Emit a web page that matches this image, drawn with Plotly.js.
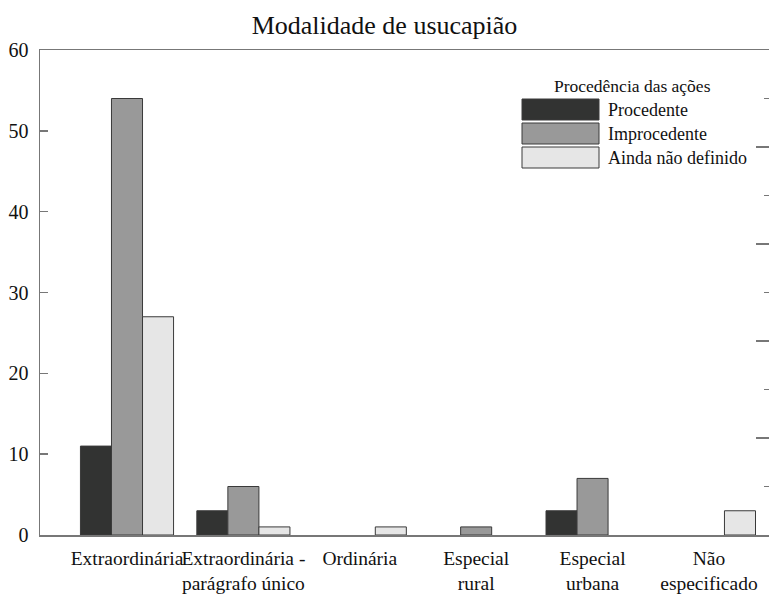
<!DOCTYPE html>
<html>
<head>
<meta charset="utf-8">
<script src="https://cdn.plot.ly/plotly-3.0.1.min.js"></script>
<style>html,body{margin:0;padding:0;background:#fff;overflow:hidden}</style>
</head>
<body>
<div id="chart" style="width:769px;height:608px"></div>
<script>
const categories = ["Extraordinária", "Extraordinária -<br>parágrafo único", "Ordinária", "Especial<br>rural", "Especial<br>urbana", "Não<br>especificado"];
const seriesNames = ["Procedente", "Improcedente", "Ainda não definido"];
const procedente = [11, 3, 0, 0, 3, 0];
const improcedente = [54, 6, 0, 1, 7, 0];
const aindaNaoDefinido = [27, 1, 1, 0, 0, 3];
const legendTitle = "Procedência das ações";
const chartTitle = "Modalidade de usucapião";
const colors = ["#323332", "#999999", "#e6e6e6"];

const FONT = "Liberation Serif";
const values = [procedente, improcedente, aindaNaoDefinido];
const traces = values.map((v, i) => ({
  type: "bar",
  x: categories,
  y: v,
  name: seriesNames[i],
  marker: {color: colors[i], line: {color: "#3a3a3a", width: v.map(d => d > 0 ? 1 : 0)}},
  showlegend: false,
  hoverinfo: "x+y+name"
}));
traces.push({type: "scatter", x: [], y: [], yaxis: "y2", showlegend: false, hoverinfo: "skip"});

// custom legend (paper coords)
const L = 40, W = 729, B = 535, H = 485;
const px = v => (v - L) / W;
const py = v => (B - v) / H;
const shapes = [];
const annotations = [];
const rows = [[99, 120], [123, 144], [147, 168]];
seriesNames.forEach((n, i) => {
  shapes.push({type: "rect", xref: "paper", yref: "paper",
    x0: px(522), x1: px(599), y0: py(rows[i][1]), y1: py(rows[i][0]),
    fillcolor: colors[i], line: {color: "#3a3a3a", width: 1}});
  annotations.push({xref: "paper", yref: "paper", x: px(606), y: py((rows[i][0] + rows[i][1]) / 2),
    xanchor: "left", yanchor: "middle", showarrow: false, text: n,
    font: {family: FONT, size: 18, color: "#111"}});
});
annotations.push({xref: "paper", yref: "paper", x: px(632), y: py(86),
  xanchor: "center", yanchor: "middle", showarrow: false, text: legendTitle,
  font: {family: FONT, size: 17.5, color: "#111"}});

const layout = {
  width: 769, height: 608,
  margin: {l: 40, r: 0, t: 50, b: 73},
  paper_bgcolor: "#fff", plot_bgcolor: "#fff",
  font: {family: FONT, color: "#111"},
  title: {text: chartTitle, font: {family: FONT, size: 26, color: "#111"},
    xref: "container", x: 0.5, xanchor: "center", yref: "container", y: 1 - 25 / 608, yanchor: "middle"},
  barmode: "group", bargap: 0.2, bargroupgap: 0,
  xaxis: {type: "category", range: [-0.7475, 5.516], showline: true, mirror: true,
    linecolor: "#777", linewidth: 1.5, ticks: "", showgrid: false, zeroline: false, tickangle: 0,
    ticklabelstandoff: 5,
    tickfont: {family: FONT, size: 19.5, color: "#111"}, fixedrange: true},
  yaxis: {range: [0, 60], tickmode: "linear", dtick: 10, ticks: "inside", ticklen: 8,
    tickcolor: "#777", tickwidth: 1.5, showline: true, linecolor: "#777", linewidth: 1.5,
    showgrid: false, zeroline: false, tickfont: {family: FONT, size: 20, color: "#111"},
    ticklabelstandoff: 6, fixedrange: true},
  yaxis2: {overlaying: "y", side: "right", anchor: "x", range: [0, 60], tickmode: "linear", dtick: 12,
    ticks: "inside", ticklen: 13, tickcolor: "#777", tickwidth: 1.5,
    minor: {dtick: 6, ticks: "inside", ticklen: 5, tickcolor: "#777", tickwidth: 1.5},
    showticklabels: false, showline: false, showgrid: false, zeroline: false, fixedrange: true},
  shapes: shapes,
  annotations: annotations
};

Plotly.newPlot("chart", traces, layout, {displayModeBar: false, staticPlot: true});
</script>
</body>
</html>
